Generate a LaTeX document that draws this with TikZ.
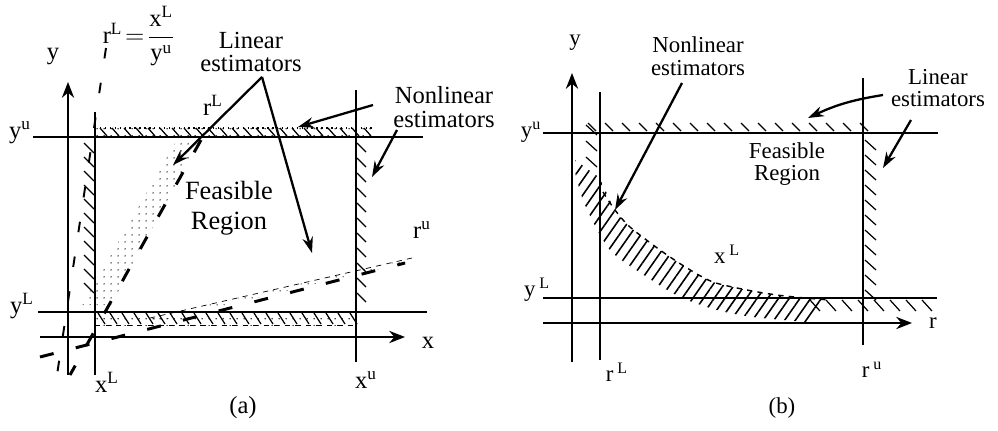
\documentclass[tikz,border=0pt]{standalone}
\usepackage{fontspec,amsmath}
\setmainfont{Liberation Serif}
\usetikzlibrary{arrows.meta,patterns.meta}

\begin{document}
\begin{tikzpicture}[
  x=0.02cm,y=-0.02cm,
  axis/.style={line width=1pt,-{Stealth[length=9pt,width=7pt]}},
  bound/.style={line width=1pt},
  arr/.style={line width=1.3pt,-{Stealth[length=9pt,width=6pt]}},
  tick/.style={line width=0.7pt},
  lbla/.style={font=\fontsize{14}{13.5}\selectfont,inner sep=0pt,align=center},
  lblb/.style={font=\fontsize{13}{13}\selectfont,inner sep=0pt,align=center},
  rayfat/.style={line width=1.7pt,dash pattern=on 8pt off 13pt},
  raythin/.style={line width=1.1pt,dash pattern=on 6pt off 14pt},
  stipple/.style={pattern={Dots[distance=4pt,radius=0.45pt]}},
  hatchb/.style={pattern={Lines[angle=55,distance=5pt,line width=0.9pt]}}
]
  \useasboundingbox (0,0) rectangle (998,430);
  % ---------------- (a) ----------------
  % Axes
  \coordinate (ya0) at (68,375); \coordinate (ya1) at (68,82);
  \coordinate (xa0) at (40,337); \coordinate (xa1) at (405,337);
  \draw[axis] (ya0) -- (ya1);
  \draw[axis] (xa0) -- (xa1);
  % Bounds
  \draw[bound] (33,137) -- (423,137);
  \draw[bound] (38,312) -- (427,312);
  \draw[bound] (95,112) -- (95,375);
  \draw[bound] (356,90) -- (356,362);
  % Stippled bands of the linear estimators
  \fill[stipple] (178,138) -- (199,142) -- (111,305) -- (82,305) -- cycle;
  \fill[stipple] (150,318) -- (412,258) -- (405,263) -- (150,323) -- cycle;
  \fill[stipple] (95,128) rectangle (375,137);
  \fill[stipple] (95,312) rectangle (356,325);
  % Hatching of the nonlinear estimators
  \foreach \y in {143,157,...,290} \draw[tick] (84,\y) -- (94,\y+10);
  \foreach \y in {143,158,...,305} \draw[tick] (357,\y) -- (366,\y+9);
  \foreach \x in {100,112,...,368} \draw[tick] (\x,128) -- (\x+7,136);
  \foreach \x in {98,110,...,350} \draw[tick] (\x,313) -- (\x+7,324);
  \draw[dotted,thick] (95,128) -- (375,128);
  \draw[dashed,thin] (95,325) -- (356,325);
  % Rays
  \draw[raythin] (106,48) -- (57,375);
  \draw[rayfat] (201,140) -- (70,375);
  \draw[rayfat] (40,357) -- (405,263);
  \draw[dashed,thin] (150,318) -- (412,258);
  % Labels
  \node[lbla] (ya) at (53,57) {y};
  \node[lbla] (yua) at (20,133) {y\textsuperscript{u}};
  \node[lbla] (yla) at (22,306) {y\textsuperscript{L}};
  \node[lbla] (xla) at (107,382) {x\textsuperscript{L}};
  \node[lbla] (xua) at (366,380) {x\textsuperscript{u}};
  \node[lbla] (xa) at (428,343) {x};
  \node[lbla] (rua) at (422,230) {r\textsuperscript{u}};
  \node[lbla] (rla) at (213,105) {r\textsuperscript{L}};
  \node[lbla] (rdef) at (139,36)
    {$\text{r}^{\text{L}}\!=\!\dfrac{\text{x}^{\text{L}}}{\text{y}^{\text{u}}}$};
  \node[lbla] (lina) at (251,52) {Linear\\estimators};
  \node[lbla] (nlina) at (444,107) {Nonlinear\\estimators};
  \node[font=\fontsize{15}{17}\selectfont,align=center] (fra)
    at (229,208) {Feasible\\Region};
  \node[lbla] (capa) at (243,408) {(a)};
  % Arrows
  \coordinate (apexa) at (262,77);
  \coordinate (tipa1) at (173,165);
  \coordinate (tipa2) at (312,253);
  \draw[arr] (apexa) -- (tipa1);
  \draw[arr] (apexa) -- (tipa2);
  \coordinate (nla0) at (373,105); \coordinate (nla1) at (298,127);
  \coordinate (nla2) at (397,130); \coordinate (nla3) at (372,177);
  \draw[arr] (nla0) -- (nla1);
  \draw[arr] (nla2) -- (nla3);
  % ---------------- (b) ----------------
  % Nonlinear hatched region
  \fill[hatchb] (575,160) -- plot[smooth] coordinates {(600,178) (615,210) (630,227)
      (660,250) (687,268) (713,282) (747,290) (777,295) (805,298) (830,300)}
    -- plot[smooth] coordinates {(807,322) (753,317) (717,310) (680,297) (647,277)
      (610,250) (585,205) (575,172)} -- cycle;
  \draw[dashed,line width=0.8pt] plot[smooth] coordinates {(603,192) (615,210)
    (630,227) (660,250) (687,268) (713,282) (747,290) (777,295) (805,298) (830,300)};
  % Axes
  \coordinate (yb0) at (572,362); \coordinate (yb1) at (572,73);
  \coordinate (rb0) at (543,323); \coordinate (rb1) at (912,323);
  \draw[axis] (yb0) -- (yb1);
  \draw[axis] (rb0) -- (rb1);
  % Bounds
  \draw[bound] (600,92) -- (600,360);
  \draw[bound] (863,78) -- (863,345);
  \draw[bound] (543,133) -- (938,133);
  \draw[bound] (543,298) -- (937,298);
  % Hatching of the linear estimators
  \foreach \x in {588,605,...,870} \draw[tick] (\x,123) -- (\x+8,131);
  \foreach \y in {140,155,...,290} \draw[tick] (865,\y) -- (876,\y+10);
  \foreach \x in {810,826,...,925} \draw[tick] (\x,300) -- (\x+10,311);
  \foreach \y in {125,141,157} \draw[tick] (586,\y) -- (597,\y+10);
  % Labels
  \node[lblb] (yb) at (575,43) {y};
  \node[lblb] (yub) at (531,132) {y\textsuperscript{u}};
  \node[lblb] (ylb) at (537,290) {y\,\textsuperscript{L}};
  \node[lblb] (rlb) at (617,372) {r\,\textsuperscript{L}};
  \node[lblb] (rub) at (872,370) {r\,\textsuperscript{u}};
  \node[lblb] (rb) at (933,323) {r};
  \node[lblb] (xlb) at (727,254) {x\,\textsuperscript{L}};
  \node[lblb] (nlinb) at (698,56) {Nonlinear\\estimators};
  \node[lblb] (linb) at (938,88) {Linear\\estimators};
  \node[lblb] (frb) at (787,164) {Feasible\\Region};
  \node[lblb] (capb) at (782,408) {(b)};
  % Arrows
  \coordinate (nlb0) at (682,83); \coordinate (nlb1) at (615,210);
  \coordinate (lb0) at (883,95); \coordinate (lb1) at (808,118);
  \coordinate (lb2) at (911,120); \coordinate (lb3) at (883,168);
  \draw[arr] (nlb0) -- (nlb1);
  \draw[arr] (lb0) to[bend right=8] (lb1);
  \draw[arr] (lb2) -- (lb3);
\end{tikzpicture}
\end{document}
